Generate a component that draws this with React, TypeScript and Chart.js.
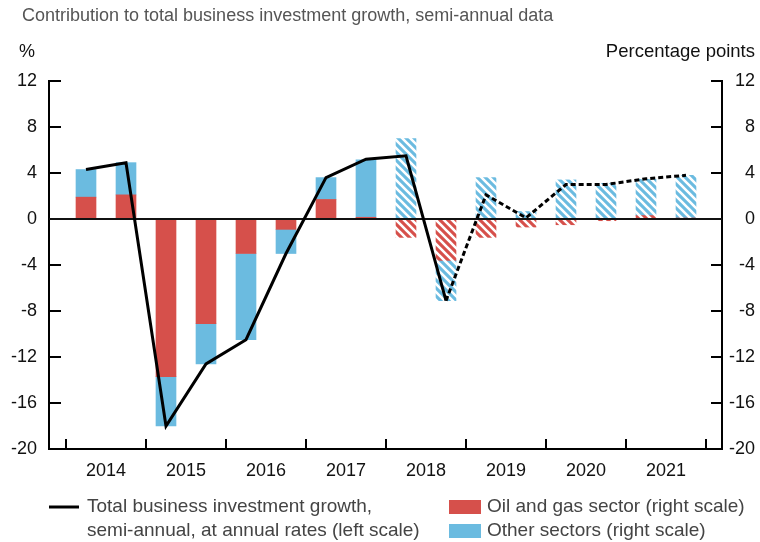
import React, { useEffect, useRef } from 'react';
import { Chart, registerables } from 'chart.js';

Chart.register(...registerables);

// ---- data ----
const periods = [
  '2014H1', '2014H2', '2015H1', '2015H2', '2016H1', '2016H2', '2017H1', '2017H2',
  '2018H1', '2018H2', '2019H1', '2019H2', '2020H1', '2020H2', '2021H1', '2021H2',
];
const yearLabels = ['2014', '2015', '2016', '2017', '2018', '2019', '2020', '2021'];
const totalGrowth = [4.3, 4.9, -18.0, -12.6, -10.5, -3.0, 3.6, 5.2, 5.5, -7.1, 2.1, 0.1, 3.0, 3.0, 3.5, 3.8];
const oilGas = [1.9, 2.1, -13.7, -9.1, -3.0, -0.9, 1.7, 0.15, -1.6, -3.6, -1.6, -0.7, -0.5, -0.15, 0.3, 0.05];
const otherSectors = [2.4, 2.8, -4.3, -3.5, -7.5, -2.1, 1.9, 5.0, 7.0, -3.5, 3.6, 0.65, 3.4, 3.1, 3.15, 3.75];
const firstProjected = 8; // hatched bars from 2018H1
const firstDotted = 9; // dotted line from 2018H2
const yTickValues = [-20, -16, -12, -8, -4, 0, 4, 8, 12];

const titleText = 'Contribution to total business investment growth, semi-annual data';
const leftUnit = '%';
const rightUnit = 'Percentage points';
const legendLine = ['Total business investment growth,', 'semi-annual, at annual rates (left scale)'];
const legendOil = 'Oil and gas sector (right scale)';
const legendOther = 'Other sectors (right scale)';

const RED = '#d6504b';
const BLUE = '#6bbbe0';
const FONT = '"Liberation Sans", Arial, sans-serif';

function makeStripes(color: string): CanvasPattern | string {
  const s = 8;
  const c = document.createElement('canvas');
  c.width = s;
  c.height = s;
  const g = c.getContext('2d');
  if (!g) return color;
  g.fillStyle = color;
  g.fillRect(0, 0, s, s);
  g.strokeStyle = '#ffffff';
  g.lineWidth = 2.6;
  g.beginPath();
  for (let k = -1; k <= 1; k++) {
    g.moveTo(-1, k * s - 1);
    g.lineTo(s + 1, s + k * s + 1);
  }
  g.stroke();
  return g.createPattern(c, 'repeat') || color;
}

export default function App() {
  const ref = useRef<HTMLCanvasElement | null>(null);

  useEffect(() => {
    const canvas = ref.current;
    if (!canvas) return;
    const redHatch = makeStripes(RED);
    const blueHatch = makeStripes(BLUE);
    const oilColors = periods.map((_, i) => (i >= firstProjected ? redHatch : RED));
    const otherColors = periods.map((_, i) => (i >= firstProjected ? blueHatch : BLUE));

    const xTickValues: number[] = [];
    for (let v = -0.5; v <= 15.5; v += 1) xTickValues.push(v);

    const overlay = {
      id: 'overlay',
      beforeDatasetDraw(chart: any, args: any) {
        if (args.meta.type !== 'line') return;
        const { ctx, chartArea } = chart;
        const y0 = chart.scales.y1.getPixelForValue(0);
        ctx.save();
        ctx.strokeStyle = '#111';
        ctx.lineWidth = 2;
        ctx.beginPath();
        ctx.moveTo(chartArea.left, y0);
        ctx.lineTo(chartArea.right, y0);
        ctx.stroke();
        ctx.restore();
      },
      afterDraw(chart: any) {
        const { ctx } = chart;
        ctx.save();
        ctx.textBaseline = 'middle';
        // title
        ctx.font = `18px ${FONT}`;
        ctx.fillStyle = '#555';
        ctx.textAlign = 'left';
        ctx.fillText(titleText, 22, 16);
        // units
        ctx.fillStyle = '#111';
        ctx.fillText(leftUnit, 19, 52);
        ctx.textAlign = 'right';
        ctx.font = `18.5px ${FONT}`;
        ctx.fillText(rightUnit, 755, 52);
        // legend
        ctx.font = `19px ${FONT}`;
        ctx.textAlign = 'left';
        ctx.fillStyle = '#444';
        ctx.strokeStyle = '#000';
        ctx.lineWidth = 3;
        ctx.beginPath();
        ctx.moveTo(49, 507);
        ctx.lineTo(79, 507);
        ctx.stroke();
        ctx.fillText(legendLine[0], 87, 507);
        ctx.fillText(legendLine[1], 87, 531);
        ctx.fillStyle = RED;
        ctx.fillRect(449, 500, 32, 14);
        ctx.fillStyle = BLUE;
        ctx.fillRect(449, 524, 32, 14);
        ctx.fillStyle = '#444';
        ctx.fillText(legendOil, 487, 507);
        ctx.fillText(legendOther, 487, 531);
        ctx.restore();
      },
    };

    const tickFont = { family: FONT, size: 18 };

    const chart = new Chart(canvas, {
      type: 'bar',
      data: {
        datasets: [
          {
            type: 'line',
            label: 'Total business investment growth',
            data: totalGrowth.map((v, i) => ({ x: i, y: v })),
            yAxisID: 'y',
            borderColor: '#000',
            borderWidth: 3,
            pointRadius: 0,
            tension: 0,
            order: 0,
            segment: {
              borderDash: (c: any) => (c.p0DataIndex >= firstDotted ? [5, 3] : undefined),
            },
          } as any,
          {
            type: 'bar',
            label: 'Oil and gas sector',
            data: oilGas.map((v, i) => ({ x: i, y: v })),
            yAxisID: 'y1',
            backgroundColor: oilColors as any,
            borderWidth: 0,
            barThickness: 20,
            stack: 's',
            order: 1,
          },
          {
            type: 'bar',
            label: 'Other sectors',
            data: otherSectors.map((v, i) => ({ x: i, y: v })),
            yAxisID: 'y1',
            backgroundColor: otherColors as any,
            borderWidth: 0,
            barThickness: 20,
            stack: 's',
            order: 2,
          },
        ],
      },
      options: {
        animation: false,
        responsive: false,
        maintainAspectRatio: false,
        layout: { padding: { left: 0, right: 5, top: 81, bottom: 60 } },
        plugins: {
          legend: { display: false },
          tooltip: { enabled: false },
          title: { display: false },
        },
        scales: {
          x: {
            type: 'linear',
            min: -0.925,
            max: 15.9,
            offset: false,
            stacked: true,
            grid: {
              offset: false,
              drawOnChartArea: false,
              drawTicks: true,
              tickLength: -10,
              lineWidth: 2,
              color: (c: any) =>
                c.tick && Math.abs(((c.tick.value + 0.5) % 2 + 2) % 2) < 1e-6 ? '#000' : 'rgba(0,0,0,0)',
            },
            border: { display: true, color: '#000', width: 2 },
            ticks: {
              autoSkip: false,
              maxRotation: 0,
              padding: 21,
              color: '#111',
              font: tickFont,
              callback: (v: any) => {
                const k = (Number(v) - 0.5) / 2;
                if (Math.abs(k - Math.round(k)) < 1e-6 && k >= 0 && k < yearLabels.length) {
                  return yearLabels[Math.round(k)];
                }
                return '';
              },
            },
            afterBuildTicks: (s: any) => {
              s.ticks = xTickValues.map((v) => ({ value: v }));
            },
            afterFit: (s: any) => {
              s.height = 33;
            },
          } as any,
          y: {
            type: 'linear',
            position: 'left',
            min: -20,
            max: 12,
            grid: {
              drawOnChartArea: false,
              drawTicks: true,
              tickLength: -12,
              lineWidth: 2,
              color: '#000',
            },
            border: { display: true, color: '#000', width: 2 },
            ticks: { padding: 24, color: '#111', font: tickFont },
            afterBuildTicks: (s: any) => {
              s.ticks = yTickValues.map((v) => ({ value: v }));
            },
            afterFit: (s: any) => {
              s.width = 49;
            },
          } as any,
          y1: {
            type: 'linear',
            position: 'right',
            min: -20,
            max: 12,
            stacked: true,
            grid: {
              drawOnChartArea: false,
              drawTicks: true,
              tickLength: -11,
              lineWidth: 2,
              color: '#000',
            },
            border: { display: true, color: '#000', width: 2 },
            ticks: { crossAlign: 'far', padding: 10, color: '#111', font: tickFont },
            afterBuildTicks: (s: any) => {
              s.ticks = yTickValues.map((v) => ({ value: v }));
            },
            afterFit: (s: any) => {
              s.width = 33;
            },
          } as any,
        },
      },
      plugins: [overlay],
    });

    return () => {
      chart.destroy();
    };
  }, []);

  return (
    <div style={{ position: 'absolute', left: 0, top: 0, width: 760, height: 542, background: '#fff' }}>
      <canvas ref={ref} width={760} height={542} style={{ display: 'block', width: 760, height: 542 }} />
    </div>
  );
}
